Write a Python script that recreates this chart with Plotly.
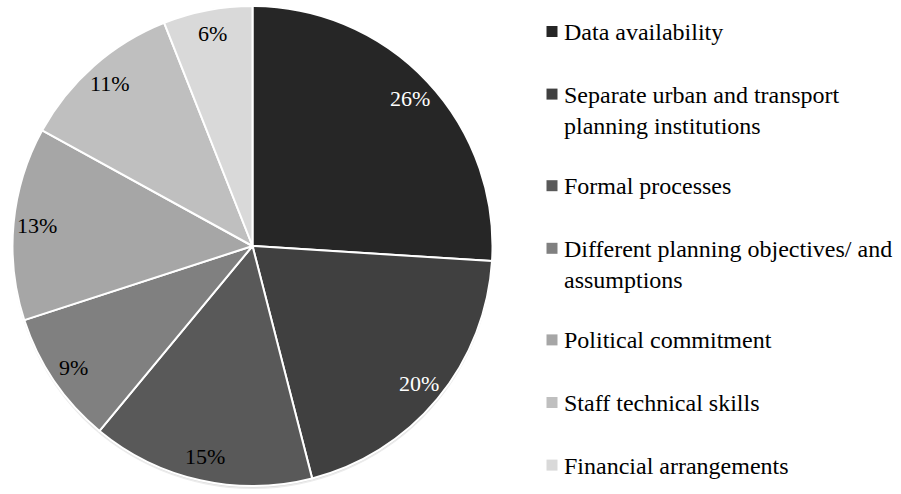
import math
import textwrap

import plotly.graph_objects as go

# barrier categories, clockwise from 12 o'clock
labels = [
    "Data availability",
    "Separate urban and transport planning institutions",
    "Formal processes",
    "Different planning objectives/ and assumptions",
    "Political commitment",
    "Staff technical skills",
    "Financial arrangements",
]
shares = [26, 20, 15, 9, 13, 11, 6]
colors = ["#262626", "#404040", "#595959", "#808080", "#a6a6a6", "#bfbfbf", "#d9d9d9"]
text_colors = ["white", "white", "black", "black", "black", "black", "black"]

W, H = 901, 494
FONT = "Liberation Serif"

# pie geometry in pixels
CX, CY, R = 252.5, 246.0, 240.0

fig = go.Figure(
    go.Pie(
        labels=labels,
        values=shares,
        sort=False,
        direction="clockwise",
        rotation=0,
        marker=dict(colors=colors, line=dict(color="white", width=2)),
        textinfo="none",
        hovertemplate="%{label}: %{value}%<extra></extra>",
        domain=dict(x=[(CX - R) / W, (CX + R) / W], y=[1 - (CY + R) / H, 1 - (CY - R) / H]),
        showlegend=False,
    )
)

# soft shadow under the pie
for off, col in [(3, "#ececec"), (1.5, "#d8d8d8")]:
    fig.add_shape(type="circle", xref="paper", yref="paper", layer="below",
                  x0=(CX - R) / W, x1=(CX + R) / W,
                  y0=1 - (CY + R + off) / H, y1=1 - (CY - R + off) / H,
                  line=dict(width=0), fillcolor=col)

# percentage labels near the rim of each slice
total = sum(shares)
cum = 0
for val, tc in zip(shares, text_colors):
    mid = (cum + val / 2) / total * 2 * math.pi
    cum += val
    px_ = CX + 0.9 * R * math.sin(mid)
    py_ = CY - 0.9 * R * math.cos(mid)
    fig.add_annotation(x=px_ / W, y=1 - py_ / H, xref="paper", yref="paper",
                       xanchor="center", yanchor="middle",
                       text=f"{val}%", showarrow=False,
                       font=dict(family=FONT, size=22, color=tc))

# legend drawn by hand so the spacing matches the original
LS = 24 * 1.3
y = 31.5
for lab, col in zip(labels, colors):
    lines = textwrap.wrap(lab, width=34)
    fig.add_shape(type="rect", xref="paper", yref="paper",
                  x0=546.5 / W, x1=557.5 / W, y0=1 - (y + 5.5) / H, y1=1 - (y - 5.5) / H,
                  fillcolor=col, line=dict(width=0))
    fig.add_annotation(x=562 / W, y=1 - (y - LS / 2 + 1) / H, xref="paper", yref="paper",
                       xanchor="left", yanchor="top", align="left",
                       text="<br>".join(lines), showarrow=False,
                       font=dict(family=FONT, size=24, color="black"))
    y += 62.6 + 29 * (len(lines) - 1)

fig.update_layout(
    width=W, height=H,
    margin=dict(l=0, r=0, t=0, b=0),
    paper_bgcolor="white",
    plot_bgcolor="white",
    font=dict(family=FONT, color="black"),
)

fig.write_html("out.html", config={"displayModeBar": False},
               post_script="document.body.style.margin='0';")
